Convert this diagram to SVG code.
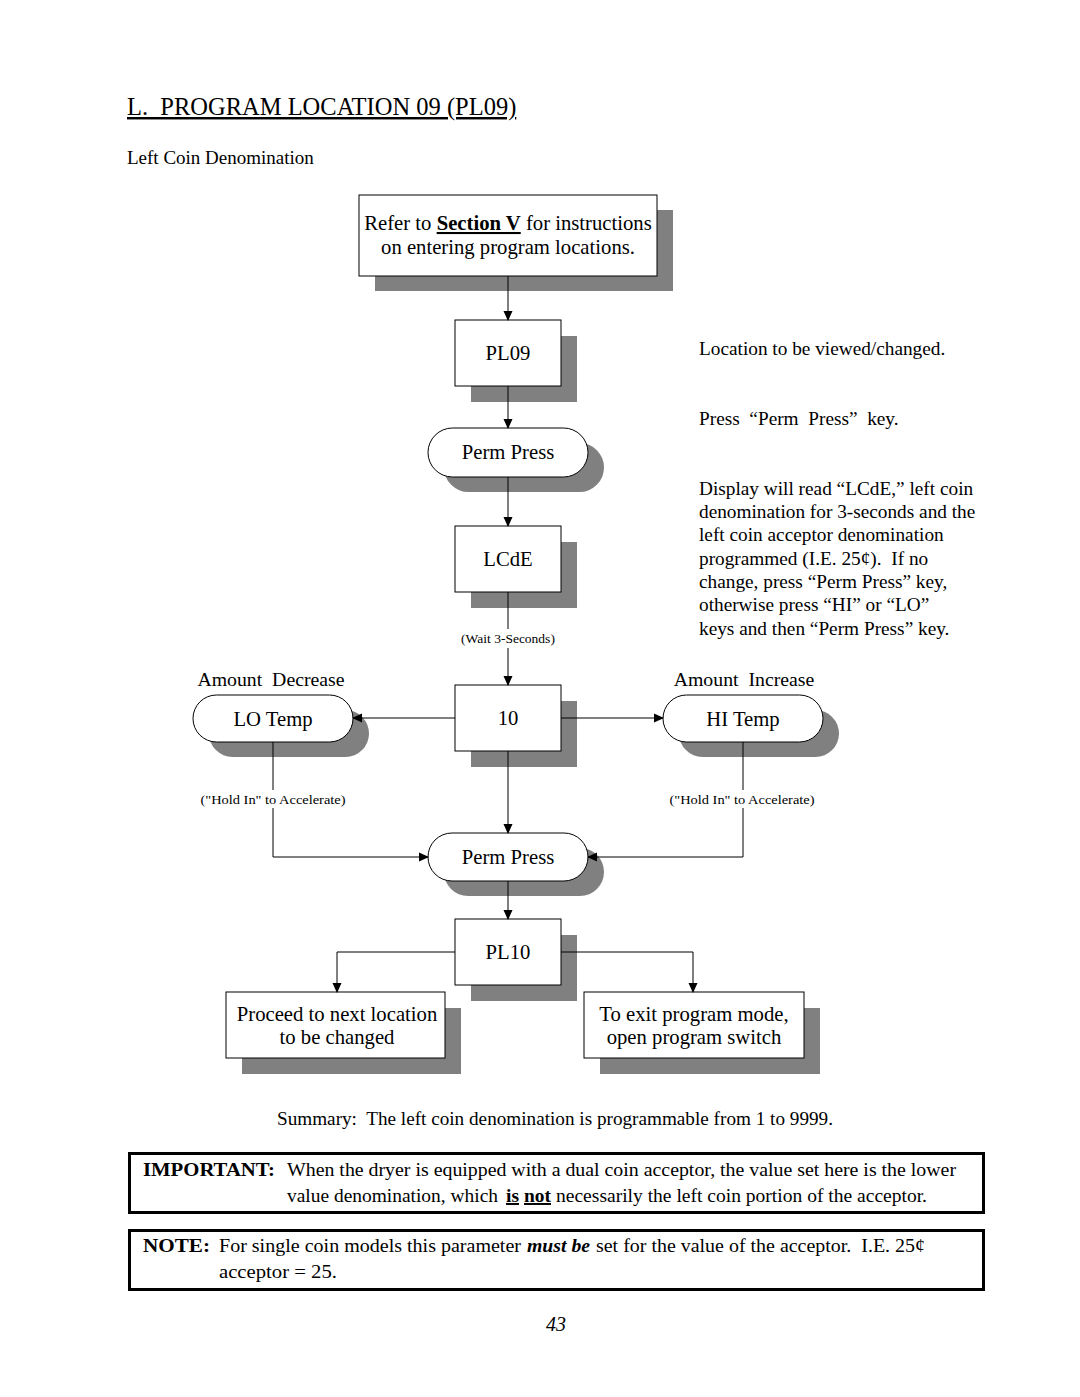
<svg xmlns="http://www.w3.org/2000/svg" width="1080" height="1397" viewBox="0 0 1080 1397">
<style>
text{font-family:"Liberation Serif","Times New Roman",serif;fill:#000;white-space:pre}
.t{font-size:20.7px}
.r{font-size:19.3px}
.c{text-anchor:middle}
.s{font-size:13.5px}
.box{fill:#fff;stroke:#000;stroke-width:1}
.sh{fill:#808080}
.ln{fill:none;stroke:#000;stroke-width:1}
.note{font-size:19.6px}
</style>
<defs>
<marker id="ar" markerWidth="10" markerHeight="10" refX="9" refY="5" orient="auto" markerUnits="userSpaceOnUse">
<path d="M0,0.5 L10,5 L0,9.5 Z" fill="#000"/>
</marker>
</defs>
<rect width="1080" height="1397" fill="#fff"/>

<text x="127" y="115" style="font-size:24.5px" text-decoration="underline">L.  PROGRAM LOCATION 09 (PL09)</text>
<text x="127" y="164" style="font-size:19px">Left Coin Denomination</text>

<g id="n-refer">
<rect class="sh" x="375" y="210" width="298" height="81"/>
<rect class="box" x="359" y="195" width="298" height="81"/>
<text x="508" y="230" class="t c">Refer to <tspan font-weight="bold" text-decoration="underline">Section V</tspan> for instructions</text>
<text x="508" y="254" class="t c">on entering program locations.</text>
</g>

<g id="n-pl09">
<rect class="sh" x="471" y="336" width="106" height="66"/>
<rect class="box" x="455" y="320" width="106" height="66"/>
<text x="508" y="360" class="t c">PL09</text>
</g>

<g id="n-perm1">
<rect class="sh" x="444" y="443" width="160" height="49" rx="24.5"/>
<rect class="box" x="428" y="428" width="160" height="49" rx="24.5"/>
<text x="508" y="459" class="t c">Perm Press</text>
</g>

<g id="n-lcde">
<rect class="sh" x="471" y="542" width="106" height="66"/>
<rect class="box" x="455" y="526" width="106" height="66"/>
<text x="508" y="566" class="t c">LCdE</text>
</g>

<g id="n-10">
<rect class="sh" x="471" y="701" width="106" height="66"/>
<rect class="box" x="455" y="685" width="106" height="66"/>
<text x="508" y="725" class="t c">10</text>
</g>

<g id="n-lo">
<rect class="sh" x="209" y="710" width="160" height="47" rx="23.5"/>
<rect class="box" x="193" y="695" width="160" height="47" rx="23.5"/>
<text x="273" y="726" class="t c">LO Temp</text>
</g>

<g id="n-hi">
<rect class="sh" x="679" y="710" width="160" height="47" rx="23.5"/>
<rect class="box" x="663" y="695" width="160" height="47" rx="23.5"/>
<text x="743" y="726" class="t c">HI Temp</text>
</g>

<g id="n-perm2">
<rect class="sh" x="444" y="848" width="160" height="48" rx="24"/>
<rect class="box" x="428" y="833" width="160" height="48" rx="24"/>
<text x="508" y="864" class="t c">Perm Press</text>
</g>

<g id="n-pl10">
<rect class="sh" x="471" y="935" width="106" height="66"/>
<rect class="box" x="455" y="919" width="106" height="66"/>
<text x="508" y="959" class="t c">PL10</text>
</g>

<g id="n-next">
<rect class="sh" x="242" y="1008" width="219" height="66"/>
<rect class="box" x="226" y="992" width="219" height="66"/>
<text x="337" y="1021" class="t c">Proceed to next location</text>
<text x="337" y="1044" class="t c">to be changed</text>
</g>

<g id="n-exit">
<rect class="sh" x="600" y="1008" width="220" height="66"/>
<rect class="box" x="584" y="992" width="220" height="66"/>
<text x="694" y="1021" class="t c">To exit program mode,</text>
<text x="694" y="1044" class="t c">open program switch</text>
</g>

<g id="connectors">
<line class="ln" x1="508" y1="276" x2="508" y2="320" marker-end="url(#ar)"/>
<line class="ln" x1="508" y1="386" x2="508" y2="428" marker-end="url(#ar)"/>
<line class="ln" x1="508" y1="477" x2="508" y2="526" marker-end="url(#ar)"/>
<line class="ln" x1="508" y1="592" x2="508" y2="629"/>
<line class="ln" x1="508" y1="648" x2="508" y2="685" marker-end="url(#ar)"/>
<text x="508" y="643" class="s c">(Wait 3-Seconds)</text>
<line class="ln" x1="455" y1="718" x2="353" y2="718" marker-end="url(#ar)"/>
<line class="ln" x1="561" y1="718" x2="663" y2="718" marker-end="url(#ar)"/>
<line class="ln" x1="273" y1="742" x2="273" y2="790"/>
<polyline class="ln" points="273,808 273,857 428,857" marker-end="url(#ar)"/>
<line class="ln" x1="743" y1="742" x2="743" y2="790"/>
<polyline class="ln" points="743,808 743,857 588,857" marker-end="url(#ar)"/>
<text x="273" y="804" class="s c" textLength="145" lengthAdjust="spacingAndGlyphs">("Hold In" to Accelerate)</text>
<text x="742" y="804" class="s c" textLength="145" lengthAdjust="spacingAndGlyphs">("Hold In" to Accelerate)</text>
<line class="ln" x1="508" y1="751" x2="508" y2="833" marker-end="url(#ar)"/>
<line class="ln" x1="508" y1="881" x2="508" y2="919" marker-end="url(#ar)"/>
<polyline class="ln" points="455,952 337,952 337,992" marker-end="url(#ar)"/>
<polyline class="ln" points="561,952 693,952 693,992" marker-end="url(#ar)"/>
</g>

<g id="labels">
<text x="271" y="686" class="t c" style="font-size:19.8px">Amount  Decrease</text>
<text x="744" y="686" class="t c" style="font-size:19.8px">Amount  Increase</text>
</g>

<g id="side-notes" class="r">
<text x="699" y="355">Location to be viewed/changed.</text>
<text x="699" y="425">Press  “Perm  Press”  key.</text>
<text x="699" y="495">Display will read “LCdE,” left coin</text>
<text x="699" y="518">denomination for 3-seconds and the</text>
<text x="699" y="541">left coin acceptor denomination</text>
<text x="699" y="565">programmed (I.E. 25¢).  If no</text>
<text x="699" y="588">change, press “Perm Press” key,</text>
<text x="699" y="611">otherwise press “HI” or “LO”</text>
<text x="699" y="635">keys and then “Perm Press” key.</text>
</g>

<text x="555" y="1125" class="c" style="font-size:19.2px">Summary:  The left coin denomination is programmable from 1 to 9999.</text>

<g id="important">
<rect x="129.5" y="1153.5" width="854" height="59" fill="#fff" stroke="#000" stroke-width="3"/>
<text x="143" y="1176" class="note" font-weight="bold" textLength="132" lengthAdjust="spacingAndGlyphs">IMPORTANT:</text>
<text x="287" y="1176" class="note" textLength="669" lengthAdjust="spacingAndGlyphs">When the dryer is equipped with a dual coin acceptor, the value set here is the lower</text>
<text x="287" y="1202" class="note" textLength="211" lengthAdjust="spacingAndGlyphs">value denomination, which</text>
<text x="506" y="1202" class="note" font-weight="bold" text-decoration="underline" textLength="13" lengthAdjust="spacingAndGlyphs">is</text>
<text x="524" y="1202" class="note" font-weight="bold" text-decoration="underline" textLength="27" lengthAdjust="spacingAndGlyphs">not</text>
<text x="556" y="1202" class="note" textLength="371" lengthAdjust="spacingAndGlyphs">necessarily the left coin portion of the acceptor.</text>
</g>

<g id="note">
<rect x="129.5" y="1230.5" width="854" height="59" fill="#fff" stroke="#000" stroke-width="3"/>
<text x="143" y="1252" class="note" font-weight="bold" textLength="67" lengthAdjust="spacingAndGlyphs">NOTE:</text>
<text x="219" y="1252" class="note" textLength="302" lengthAdjust="spacingAndGlyphs">For single coin models this parameter</text>
<text x="527" y="1252" class="note" font-weight="bold" font-style="italic" textLength="63" lengthAdjust="spacingAndGlyphs">must be</text>
<text x="596" y="1252" class="note" textLength="329" lengthAdjust="spacingAndGlyphs">set for the value of the acceptor.  I.E. 25¢</text>
<text x="219" y="1278" class="note" textLength="118" lengthAdjust="spacingAndGlyphs">acceptor = 25.</text>
</g>

<text x="556" y="1331" class="c" style="font-size:20px;font-style:italic">43</text>
</svg>
